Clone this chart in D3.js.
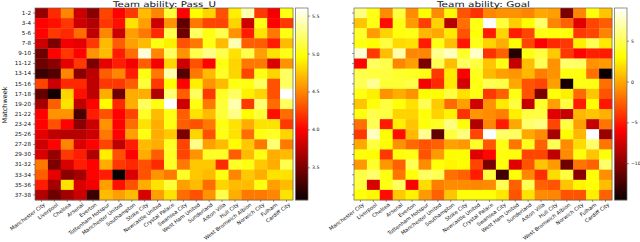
<!DOCTYPE html>
<html>
<head>
<meta charset="utf-8">
<script src="https://d3js.org/d3.v7.min.js"></script>
<style>
  html, body { margin: 0; padding: 0; background: #fff; }
  text { font-family: "DejaVu Sans", sans-serif; fill: #111; }
</style>
</head>
<body>
<svg width="640" height="242"></svg>
<script>
const teams = ['Manchester City', 'Liverpool', 'Chelsea', 'Arsenal', 'Everton', 'Tottenham Hotspur', 'Manchester United', 'Southampton', 'Stoke City', 'Newcastle United', 'Crystal Palace', 'Swansea City', 'West Ham United', 'Sunderland', 'Aston Villa', 'Hull City', 'West Bromwich Albion', 'Norwich City', 'Fulham', 'Cardiff City']
const weeks = ['1-2', '3-4', '5-6', '7-8', '9-10', '11-12', '13-14', '15-16', '17-18', '19-20', '21-22', '23-24', '25-26', '27-28', '29-30', '31-32', '33-34', '35-36', '37-38']

const passU = [
  [3.6, 4.15, 4.5, 3.8, 3.55, 4.25, 4.0, 4.2, 4.7, 4.5, 5.1, 4.0, 4.95, 4.8, 4.3, 4.9, 5.4, 4.2, 3.95, 5.0],
  [4.0, 4.05, 4.2, 3.8, 3.7, 4.2, 4.05, 4.85, 4.6, 3.8, 4.55, 3.4, 4.45, 4.25, 4.25, 4.8, 3.8, 5.0, 4.0, 4.2],
  [4.0, 4.2, 4.15, 4.4, 3.75, 4.5, 3.8, 4.6, 4.45, 4.15, 5.15, 3.45, 5.2, 5.0, 5.15, 4.55, 4.1, 4.85, 4.45, 5.0],
  [3.8, 3.5, 3.95, 3.9, 4.2, 4.7, 4.35, 4.6, 4.7, 5.0, 4.9, 4.3, 4.45, 5.0, 4.7, 5.4, 4.35, 4.35, 4.1, 4.7],
  [3.45, 4.0, 4.2, 4.0, 4.55, 4.7, 4.1, 4.4, 5.5, 4.5, 5.2, 4.55, 5.15, 5.3, 5.15, 4.85, 5.15, 4.6, 4.85, 5.0],
  [3.45, 3.55, 3.9, 4.2, 3.5, 3.9, 4.1, 3.95, 4.35, 3.95, 4.8, 3.8, 4.3, 4.0, 5.0, 4.8, 4.45, 4.45, 3.85, 4.55],
  [3.25, 3.35, 4.5, 3.55, 3.75, 4.35, 4.5, 4.1, 5.0, 4.45, 5.4, 3.35, 4.45, 4.7, 5.05, 4.8, 4.25, 5.0, 4.8, 5.2],
  [4.25, 3.8, 4.15, 4.15, 3.75, 4.2, 4.2, 4.35, 5.1, 4.2, 4.95, 4.0, 4.9, 4.55, 4.7, 5.0, 5.0, 5.2, 4.3, 5.2],
  [3.4, 3.1, 4.8, 4.05, 3.75, 4.65, 3.45, 4.65, 4.65, 3.7, 5.25, 4.35, 5.2, 4.2, 5.05, 5.2, 4.9, 4.8, 4.3, 5.6],
  [3.65, 4.35, 4.85, 3.75, 4.0, 4.95, 4.15, 4.65, 5.2, 5.0, 5.6, 3.8, 5.0, 4.45, 5.1, 5.4, 4.2, 5.25, 4.4, 5.2],
  [4.0, 4.55, 4.55, 3.3, 4.1, 4.3, 4.0, 4.25, 5.05, 4.7, 5.0, 4.35, 4.85, 4.7, 5.1, 5.3, 4.95, 5.1, 4.05, 4.4],
  [4.0, 4.3, 4.0, 3.55, 3.8, 4.55, 4.0, 4.4, 4.85, 4.65, 5.0, 4.35, 4.3, 4.45, 5.0, 4.85, 4.65, 4.85, 4.85, 4.2],
  [3.9, 3.75, 3.72, 3.72, 3.8, 4.45, 4.0, 4.6, 5.0, 4.65, 4.75, 3.5, 4.8, 4.3, 5.0, 4.85, 4.4, 5.0, 5.05, 4.8],
  [3.8, 4.0, 4.5, 3.85, 4.0, 4.25, 3.75, 4.1, 4.7, 4.65, 5.05, 4.25, 5.3, 4.6, 4.7, 4.95, 4.75, 4.45, 5.25, 4.45],
  [3.85, 3.6, 4.2, 4.1, 3.7, 4.9, 4.3, 4.0, 4.65, 4.35, 5.05, 4.25, 4.55, 5.05, 5.05, 4.35, 4.7, 5.0, 4.65, 4.7],
  [4.45, 3.5, 3.85, 4.1, 4.0, 4.65, 4.2, 4.15, 4.3, 4.15, 5.05, 4.45, 4.75, 4.75, 4.15, 5.05, 5.0, 4.75, 4.65, 5.15],
  [4.35, 3.9, 3.55, 3.65, 4.0, 4.1, 3.07, 3.85, 4.3, 4.55, 4.45, 5.05, 4.75, 4.7, 5.0, 4.5, 4.75, 4.65, 4.85, 4.85],
  [4.1, 3.65, 4.85, 3.85, 3.95, 4.6, 4.05, 4.3, 4.65, 4.85, 5.1, 4.6, 4.7, 4.4, 4.8, 4.7, 4.7, 5.0, 4.6, 4.7],
  [3.7, 3.45, 3.65, 3.8, 3.25, 4.7, 4.6, 4.7, 3.85, 4.6, 4.85, 4.4, 4.3, 4.55, 5.15, 4.65, 4.45, 4.45, 4.5, 4.85]
]

const goal = [
  [6.0, 3.5, -1.0, 4.5, -1.0, 3.0, -1.0, 2.8, -3.0, -4.2, -1.2, -0.8, -0.8, -1.3, 0, -0.3, -10.5, -1.2, 3.3, 1.0],
  [1.0, 3.5, -5.5, 3.5, -0.5, -3.7, 1.5, -8.5, -2, 3.5, 9, 4.5, 1.3, 3.0, 5.5, -1.2, -2.5, -7, -3.5, -2.7],
  [4.0, -0.5, 1.5, 3.3, 3.5, 0.5, 0, 2.3, -3, 3.2, -5, 1.6, -5, -3.5, 3.5, 3.2, 3.2, -4, -3.5, -1.3],
  [3.5, 3, 4.5, 1.7, 2, -5, 3.5, 0.8, -5.2, 3.6, 1.5, 0.2, 3.0, -3.5, -6, -4.5, -4, 2.5, 5, 2.3],
  [8, -4, 0.8, 7, -1.2, -1.2, 6.3, 7.5, 4, 7.8, -4.2, -2.5, -13.5, 3.5, 4.5, 1.2, -4, -5.8, -4.8, -5],
  [-5.8, 5.2, 4.8, -1.2, -0.3, -10.5, 5, 0.8, 5.2, 4.5, 1, 3.5, -8, 0.8, 5, -0.8, 5.5, 5.3, -0.8, -0.5],
  [4.8, 4.5, 4.5, 4, 3.8, 3.5, -4, 2.3, -6, 3.7, 0.6, -0.3, -0.7, 0.5, -1.5, -0.8, 3.3, 3.3, -2, -14.5],
  [5, 6.5, 4.3, 4.3, 4.7, -6.2, -4.5, 2.3, -7.5, 3.5, 5, 4.7, 0, -3, -3.5, -0.3, -14, 3.5, 3.5, -2],
  [3.5, 2.5, -0.8, 0.2, -0.8, 3, 3, 4.5, 2, 3.5, -4, -2.5, 3.5, -3, -10.5, 3.2, 2.5, -2.2, 1, -3],
  [1, 3.2, 4.5, 3.3, 2, 5, 1.2, -2.2, -0.3, -7.5, -0.8, 2.3, 4.5, -8, 4, -0.3, 4.5, -5, 3, -5.2],
  [3.4, 4.8, 4.5, 1.5, 1.5, 3.2, 1.5, 2.6, -4.2, -0.7, -1, -1.5, 2.5, 4.5, 4.5, -7, -8, 0.5, 1, 0.3],
  [-2, 5, -5, 2.5, 1, 3.2, 3.8, 6, 3.2, -8.7, -1.2, -5, 0, 5.5, 6, -3.5, 4.6, -0.3, -8, -1.8],
  [-4, 7.5, 3, -5.5, 0.6, 6.5, -11.5, 4.5, 6, -3.5, 9, 5.5, 5.3, 0, -1, -9, 3, 0.5, 9, -9.5],
  [0, 4.5, 3, -0.8, -2.2, -3, -2.5, -0.3, -0.6, 4, -2.8, 3.5, -1.8, 3.7, -2.5, 5, -1, 1.8, 5.5, -1.8],
  [3.3, 3, -4, 3.3, 3.5, -3, -0.5, 3, 3, -7, -5.7, 3.3, 3.3, -3.5, -3.5, -8.2, -1, 3.3, 1, 3.3],
  [-0.6, 4, -0.6, -2.5, 5, -1, 3.2, 2.7, 3, -3.5, -10.5, 3.3, -7, -3, 1, -0.5, -11, -1.8, -2.5, 5.5],
  [4.7, 5.5, 3.5, -1.8, 3.2, 5.3, 5, -2, -2.5, -5, 4.5, -12.5, 3.2, -1.2, -4.3, 1.8, 4.5, -10, 3.3, -0.9],
  [4.5, -7.3, 3.5, 5.3, -6, 1.8, -1.5, -1, -1, -1.2, -1, 5, -2.5, 5, -2.5, -3, 1, 2.7, 3.2, 0.8],
  [3.3, 2.8, -5.5, 1.2, 2.6, -0.5, -2.5, 1, 3.2, 3.2, 3.2, 2.2, -3, 2, -1, -1.2, -3, -3, 2.5, -2.5]
]

const passTicks = [3.5, 4.0, 4.5, 5.0, 5.5]
const goalTicks = [-10, -5, 0, 5]

const plotTop = 8
const plotBottom = 200
const plotWidth = 258
const svg = d3.select('svg')

function heatmap(rows, opts) {
    const g = svg.append('g')
    const x = d3.scaleBand().domain(teams).range([opts.left, opts.left + plotWidth])
    const y = d3.scaleBand().domain(weeks).range([plotTop, plotBottom])

    // matplotlib "hot" stops
    const [lo, hi] = opts.extent
    const color = d3.scaleLinear()
        .domain([0, 0.365, 0.746, 1].map(t => lo + t * (hi - lo)))
        .range(['#0b0000', '#ff0000', '#ffff00', '#ffffff'])
        .clamp(true)

    const cells = rows.flatMap((r, i) => r.map((v, j) => ({ week: weeks[i], team: teams[j], v })))
    g.selectAll('rect.cell').data(cells).enter().append('rect')
        .attr('class', 'cell')
        .attr('x', d => x(d.team))
        .attr('y', d => y(d.week))
        .attr('width', x.bandwidth() + 0.3)
        .attr('height', y.bandwidth() + 0.3)
        .attr('fill', d => color(d.v))

    g.append('rect')
        .attr('x', opts.left).attr('y', plotTop)
        .attr('width', plotWidth).attr('height', plotBottom - plotTop)
        .attr('fill', 'none').attr('stroke', '#666').attr('stroke-width', 0.7)

    const xAxis = g.append('g')
        .attr('transform', `translate(0,${plotBottom})`)
        .call(d3.axisBottom(x).tickSize(2).tickPadding(3))
    xAxis.select('.domain').remove()
    xAxis.selectAll('line').attr('stroke', '#333').attr('stroke-width', 0.5)
    xAxis.selectAll('text')
        .attr('font-size', 5.2)
        .attr('text-anchor', 'end')
        .attr('x', 3)
        .attr('y', 4)
        .attr('dy', '0.35em')
        .attr('transform', 'rotate(-37 3 4)')

    const yAxis = g.append('g')
        .attr('transform', `translate(${opts.left},0)`)
        .call(d3.axisLeft(y).tickSize(2).tickPadding(2).tickFormat(opts.yLabels ? null : ''))
    yAxis.select('.domain').remove()
    yAxis.selectAll('line').attr('stroke', '#333').attr('stroke-width', 0.5)
    yAxis.selectAll('text').attr('font-size', 5.6)

    g.append('text')
        .attr('x', opts.left + plotWidth / 2 + 0.5).attr('y', 6.5)
        .attr('text-anchor', 'middle')
        .attr('font-size', 7.8)
        .attr('textLength', opts.titleWidth)
        .attr('lengthAdjust', 'spacingAndGlyphs')
        .text(opts.title)

    // colorbar
    const bar = d3.scaleLinear().domain(opts.extent).range([plotBottom, plotTop])
    const barLeft = opts.left + plotWidth + 2.5
    g.selectAll('rect.bar').data(d3.range(plotTop, plotBottom)).enter().append('rect')
        .attr('class', 'bar')
        .attr('x', barLeft)
        .attr('y', d => d)
        .attr('width', 12.5)
        .attr('height', 1.2)
        .attr('fill', d => color(bar.invert(d + 0.5)))
    g.append('rect')
        .attr('x', barLeft).attr('y', plotTop)
        .attr('width', 12.5).attr('height', plotBottom - plotTop)
        .attr('fill', 'none').attr('stroke', '#666').attr('stroke-width', 0.7)
    const barAxis = g.append('g')
        .attr('transform', `translate(${barLeft + 12.5},0)`)
        .call(d3.axisRight(bar).tickValues(opts.ticks).tickSize(2).tickPadding(2).tickFormat(opts.format))
    barAxis.select('.domain').remove()
    barAxis.selectAll('line').attr('stroke', '#333').attr('stroke-width', 0.5)
    barAxis.selectAll('text').attr('font-size', 4.6)
}

heatmap(passU, {
    left: 35, title: 'Team ability: Pass_U', titleWidth: 103, extent: [3.07, 5.6],
    ticks: passTicks, format: d3.format('.1f'), yLabels: true
})
heatmap(goal, {
    left: 354, title: 'Team ability: Goal', titleWidth: 93, extent: [-14.5, 9],
    ticks: goalTicks, format: d => String(d).replace('-', '\u2212'), yLabels: false
})

svg.append('text')
    .attr('transform', 'translate(7,105) rotate(-90)')
    .attr('text-anchor', 'middle')
    .attr('font-size', 6.5)
    .text('Matchweek')
</script>
</body>
</html>
